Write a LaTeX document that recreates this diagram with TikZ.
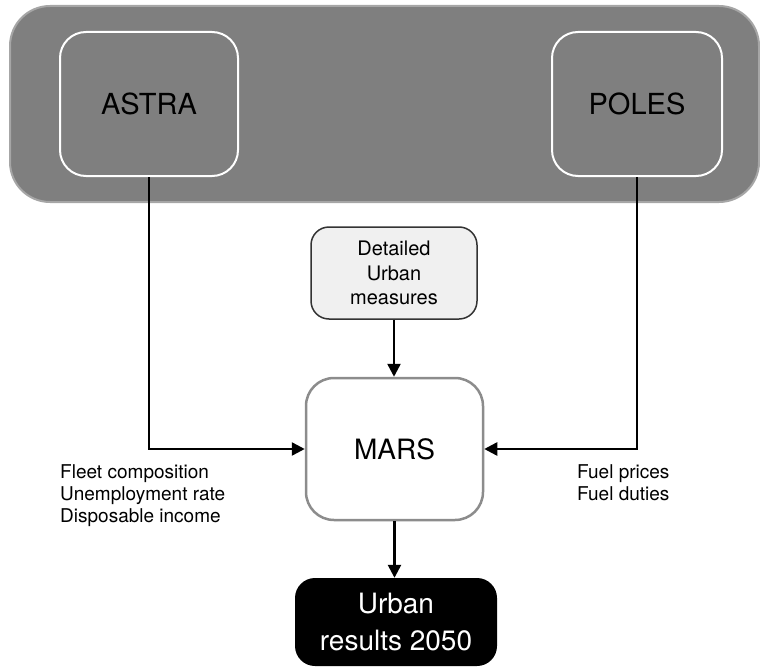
\documentclass[tikz,border=0pt]{standalone}
\usepackage{fontspec}
\setmainfont{TeX Gyre Heros}
\usetikzlibrary{arrows.meta}
\definecolor{bggray}{HTML}{7F7F7F}
\definecolor{bgborder}{HTML}{A6A6A6}
\definecolor{lightfill}{HTML}{F0F0F0}
\definecolor{marsborder}{HTML}{8C8C8C}
\begin{document}
\begin{tikzpicture}[x=1pt,y=-1pt,
  box/.style={rectangle, rounded corners=26pt, inner sep=0pt, align=center},
  arr/.style={line width=2.5pt, -{Triangle[length=13pt,width=13pt]}},
  lbl/.style={inner sep=0pt, anchor=base west, font=\fontsize{19}{22}\selectfont}
]
\useasboundingbox (0,0) rectangle (760,669);
\node[box, rounded corners=40pt, fill=bggray, draw=bgborder, line width=2pt,
      minimum width=749pt, minimum height=196pt] (group) at (384.5,104) {};
\node[box, draw=white, line width=2pt, minimum width=178pt, minimum height=144pt,
      font=\fontsize{29}{32}\selectfont] (astra) at (149,104) {ASTRA};
\node[box, draw=white, line width=2pt, minimum width=170pt, minimum height=144pt,
      font=\fontsize{29}{32}\selectfont] (poles) at (637,104) {POLES};
\node[box, rounded corners=18pt, fill=lightfill, draw=black!80, line width=1.5pt,
      minimum width=166pt, minimum height=92pt,
      font=\fontsize{20}{24.5}\selectfont] (detailed) at (394,273) {Detailed\\Urban\\measures};
\node[box, rounded corners=28pt, fill=white, draw=marsborder, line width=2.5pt,
      minimum width=177pt, minimum height=142pt,
      font=\fontsize{28}{32}\selectfont] (mars) at (394.5,449) {MARS};
\node[box, rounded corners=20pt, fill=black, text=white,
      minimum width=202pt, minimum height=88pt,
      font=\fontsize{28}{37}\selectfont] (urban) at (396,622) {Urban\\results 2050};
\draw[arr] (astra.south) |- (mars.west);
\draw[arr] (poles.south) |- (mars.east);
\draw[arr] (detailed.south) -- (detailed.south |- mars.north);
\draw[arr] (mars.south) -- (mars.south |- urban.north);
\node[lbl] (leftlbl) at (60,478) {\begin{tabular}[t]{@{}l@{}}Fleet composition\\Unemployment rate\\Disposable income\end{tabular}};
\node[lbl] (rightlbl) at (577,478) {\begin{tabular}[t]{@{}l@{}}Fuel prices\\Fuel duties\end{tabular}};
\end{tikzpicture}
\end{document}
